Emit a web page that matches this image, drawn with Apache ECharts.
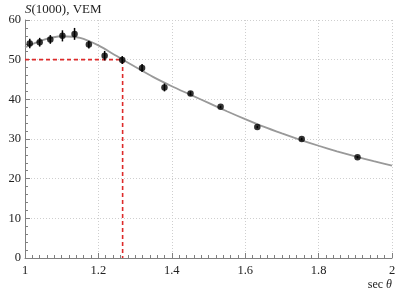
<!DOCTYPE html>
<html>
<head>
<meta charset="utf-8">
<script src="https://cdn.jsdelivr.net/npm/echarts@6/dist/echarts.min.js"></script>
<style>html,body{margin:0;padding:0;background:#fff}#c{width:399px;height:295px}</style>
</head>
<body>
<div id="c"></div>
<script>
// Measured points
var secTheta = [1.013, 1.040, 1.069, 1.102, 1.135, 1.174, 1.217, 1.265, 1.319, 1.380, 1.451, 1.533, 1.633, 1.754, 1.906];
var s1000    = [54.1, 54.4, 55.1, 56.0, 56.5, 53.8, 51.0, 49.9, 47.9, 43.0, 41.5, 38.1, 33.0, 30.0, 25.4];
var s1000Err = [1.2, 1.1, 1.1, 1.4, 1.5, 1.0, 1.2, 1.0, 1.0, 1.0, 0.5, 0.3, 0.3, 0.3, 0.3];
// Fit curve
var curveX = [1.00, 1.05, 1.10, 1.15, 1.20, 1.25, 1.30, 1.35, 1.40, 1.45, 1.50, 1.55, 1.60, 1.65, 1.70, 1.75, 1.80, 1.85, 1.90, 1.95, 2.00];
var curveY = [53.1, 55.0, 55.9, 55.5, 53.6, 50.9, 48.2, 45.6, 43.3, 41.2, 39.1, 37.0, 35.0, 33.1, 31.4, 29.8, 28.3, 26.9, 25.6, 24.4, 23.3];
// Reference (red dashed) lines
var refX = 1.266;
var refY = 50;
var xTicks = [1, 1.2, 1.4, 1.6, 1.8, 2];
var yTicks = [0, 10, 20, 30, 40, 50, 60];

var serif = '"Liberation Serif", "DejaVu Serif", serif';
var chart = echarts.init(document.getElementById('c'));
var pts = secTheta.map(function (x, i) { return [x, s1000[i]]; });
var errData = secTheta.map(function (x, i) { return [x, s1000[i] - s1000Err[i], s1000[i] + s1000Err[i]]; });
var curve = curveX.map(function (x, i) { return [x, curveY[i]]; });

chart.setOption({
  animation: false,
  backgroundColor: '#fff',
  grid: { left: 25, right: 7, top: 20, bottom: 37 },
  title: {
    text: '{i|S}(1000), VEM',
    left: 25, top: 3, padding: 0,
    textStyle: {
      fontFamily: serif, fontSize: 13, fontWeight: 'normal', color: '#222',
      rich: { i: { fontFamily: serif, fontSize: 13, fontStyle: 'italic', color: '#222' } }
    }
  },
  xAxis: {
    type: 'value', min: xTicks[0], max: xTicks[xTicks.length - 1], interval: 0.2,
    name: 'sec {i|θ}', nameLocation: 'end', nameGap: 0,
    nameTextStyle: {
      fontFamily: serif, fontSize: 12, color: '#222', align: 'right', verticalAlign: 'top', padding: [21, 0, 0, 0],
      rich: { i: { fontFamily: serif, fontSize: 12, fontStyle: 'italic', color: '#222' } }
    },
    axisLine: { lineStyle: { color: '#808080', width: 1 } },
    axisTick: { inside: true, length: 5, lineStyle: { color: '#808080' } },
    minorTick: { show: true, splitNumber: 10, length: 3, lineStyle: { color: '#808080' } },
    axisLabel: {
      fontFamily: serif, fontSize: 12.5, color: '#222', margin: 6,
      formatter: function (v) { return String(parseFloat(v.toFixed(1))); }
    },
    splitLine: { show: true, lineStyle: { type: [1, 2], color: '#cfcfcf', width: 1 } }
  },
  yAxis: {
    type: 'value', min: yTicks[0], max: yTicks[yTicks.length - 1], interval: 10,
    axisLine: { show: true, lineStyle: { color: '#808080', width: 1 } },
    axisTick: { show: true, inside: true, length: 5, lineStyle: { color: '#808080' } },
    minorTick: { show: true, splitNumber: 5, length: 3, lineStyle: { color: '#808080' } },
    axisLabel: { fontFamily: serif, fontSize: 12.5, color: '#222', margin: 4 },
    splitLine: { show: true, lineStyle: { type: [1, 2], color: '#cfcfcf', width: 1 } }
  },
  series: [
    {
      type: 'line', data: [[xTicks[0], refY], [refX, refY], [refX, yTicks[0]]],
      symbol: 'none', lineStyle: { color: '#dd2a2a', width: 1.6, type: [4, 3] }, z: 2
    },
    {
      type: 'line', data: curve, smooth: 0.3, symbol: 'none',
      lineStyle: { color: '#999', width: 1.8 }, z: 3
    },
    {
      type: 'custom', data: errData, z: 4,
      renderItem: function (params, api) {
        var lo = api.coord([api.value(0), api.value(1)]);
        var hi = api.coord([api.value(0), api.value(2)]);
        return { type: 'line', shape: { x1: lo[0], y1: lo[1], x2: hi[0], y2: hi[1] },
                 style: { stroke: '#000', lineWidth: 1.5 } };
      }
    },
    {
      type: 'scatter', data: pts, symbol: 'circle', symbolSize: 6.5,
      itemStyle: { color: '#000' }, z: 5
    }
  ]
});
</script>
</body>
</html>
